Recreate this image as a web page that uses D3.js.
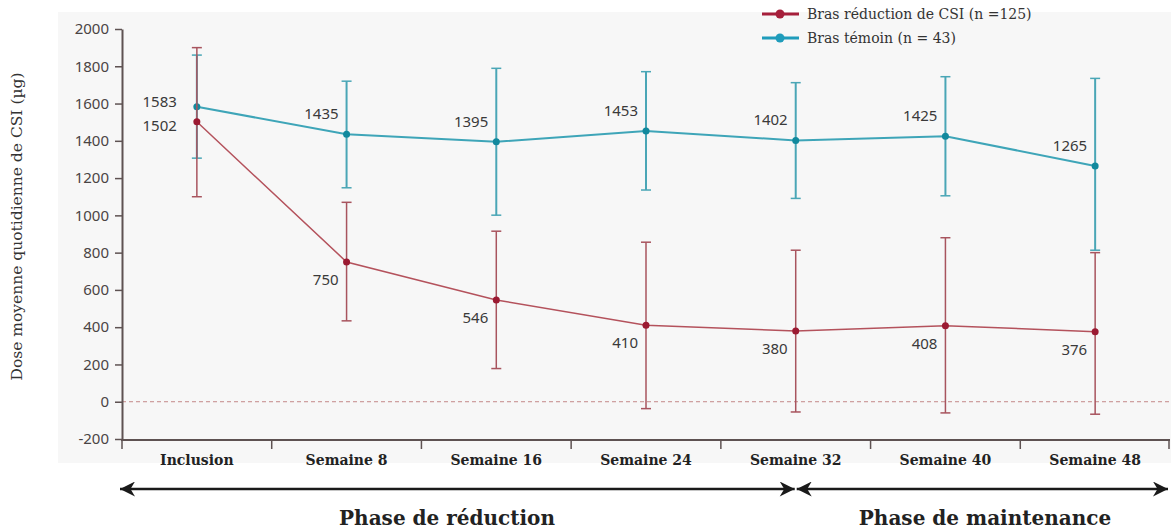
<!DOCTYPE html>
<html><head><meta charset="utf-8">
<script src="https://cdn.jsdelivr.net/npm/d3@7/dist/d3.min.js"></script>
<style>
html,body{margin:0;padding:0;background:#fff;}
svg{display:block;}
</style></head>
<body>
<svg id="chart" width="1171" height="530"></svg>
<script>
const categories = ["Inclusion","Semaine 8","Semaine 16","Semaine 24","Semaine 32","Semaine 40","Semaine 48"];
const reductionMean = [1502, 750, 546, 410, 380, 408, 376];
const reductionHigh = [1900, 1070, 915, 856, 813, 880, 800];
const reductionLow  = [1100, 434, 178, -37, -55, -60, -67];
const temoinMean = [1583, 1435, 1395, 1453, 1402, 1425, 1265];
const temoinHigh = [1860, 1720, 1789, 1771, 1712, 1744, 1735];
const temoinLow  = [1307, 1148, 1001, 1136, 1091, 1105, 813];
const yTicks = [-200, 0, 200, 400, 600, 800, 1000, 1200, 1400, 1600, 1800, 2000];
const seriesNames = ["Bras réduction de CSI (n =125)", "Bras témoin (n = 43)"];
const phaseNames = ["Phase de réduction", "Phase de maintenance"];
const yTitle = "Dose moyenne quotidienne de CSI (µg)";

const svg = d3.select("#chart");
const x = d3.scaleBand().domain(categories).range([122, 1170]).padding(0);
const y = d3.scaleLinear().domain([-200, 2000]).range([439, 29]);
const cx = c => x(c) + x.bandwidth() / 2;

const serif = "'DejaVu Serif', 'Liberation Serif', serif";
const sans = "'Noto Sans', 'Open Sans', sans-serif";
const axisColor = "#5e5252";

// background
svg.append("rect").attr("x", 58).attr("y", 12).attr("width", 1171 - 58).attr("height", 451).attr("fill", "#f7f7f7");

// zero dashed line
svg.append("line").attr("x1", x.range()[0]).attr("x2", 1171).attr("y1", y(0)).attr("y2", y(0))
  .attr("stroke", "#c48a8a").attr("stroke-width", 1).attr("stroke-dasharray", "4,3");

// y axis
const yAxis = svg.append("g").attr("transform", `translate(${x.range()[0]},0)`)
  .call(d3.axisLeft(y).tickValues(yTicks).tickFormat(d => String(d)).tickSize(7).tickSizeOuter(0).tickPadding(6));
yAxis.select(".domain").attr("stroke", axisColor).attr("stroke-width", 2);
yAxis.selectAll(".tick line").attr("stroke", axisColor).attr("stroke-width", 1.5);
yAxis.selectAll(".tick text").attr("font-family", sans).attr("font-size", 15).attr("fill", "#4a4444");

// x axis line
svg.append("line").attr("x1", x.range()[0] - 1).attr("x2", x.range()[1]).attr("y1", y(-200) + 1).attr("y2", y(-200) + 1)
  .attr("stroke", axisColor).attr("stroke-width", 2);
// boundary ticks
const bounds = categories.map(c => x(c)).concat([x.range()[1] - 1]);
svg.selectAll(".btick").data(bounds).enter().append("line")
  .attr("x1", d => d).attr("x2", d => d).attr("y1", y(-200)).attr("y2", y(-200) + 10)
  .attr("stroke", axisColor).attr("stroke-width", 1.5);
// category labels
svg.selectAll(".cat").data(categories).enter().append("text")
  .attr("x", d => cx(d)).attr("y", 465).attr("text-anchor", "middle")
  .attr("font-family", serif).attr("font-weight", "bold").attr("font-size", 14).attr("fill", "#222")
  .text(d => d);

// y title
svg.append("text").attr("transform", `translate(22,${(68 + 385) / 2}) rotate(-90)`)
  .attr("text-anchor", "middle").attr("font-family", serif).attr("font-size", 15.5).attr("fill", "#333")
  .text(yTitle);

function drawSeries(mean, hi, lo, lineColor, barColor, ptColor, lw, above) {
  const g = svg.append("g");
  g.selectAll(".eb").data(categories).enter().append("line")
    .attr("x1", d => cx(d)).attr("x2", d => cx(d))
    .attr("y1", (d, i) => y(hi[i])).attr("y2", (d, i) => y(lo[i]))
    .attr("stroke", barColor).attr("stroke-width", lw);
  [hi, lo].forEach(arr => {
    g.selectAll(null).data(categories).enter().append("line")
      .attr("x1", d => cx(d) - 5).attr("x2", d => cx(d) + 5)
      .attr("y1", (d, i) => y(arr[i])).attr("y2", (d, i) => y(arr[i]))
      .attr("stroke", barColor).attr("stroke-width", 1.5);
  });
  const line = d3.line().x((d, i) => cx(categories[i])).y(d => y(d));
  g.append("path").datum(mean).attr("d", line).attr("fill", "none").attr("stroke", lineColor).attr("stroke-width", lw);
  g.selectAll("circle").data(mean).enter().append("circle")
    .attr("cx", (d, i) => cx(categories[i])).attr("cy", d => y(d)).attr("r", 3.5).attr("fill", ptColor);
  g.selectAll(".lbl").data(mean).enter().append("text")
    .attr("x", (d, i) => cx(categories[i]) - (i === 0 ? 20 : 8))
    .attr("y", (d, i) => y(d) + (i === 0 ? (above ? 0 : 9) : (above ? -15 : 23)))
    .attr("text-anchor", "end").attr("font-family", sans).attr("font-size", 15).attr("fill", "#3a3a3a")
    .text(d => d);
}
drawSeries(temoinMean, temoinHigh, temoinLow, "#3ea5b8", "#4aa6b6", "#12899d", 2, true);
drawSeries(reductionMean, reductionHigh, reductionLow, "#b4525c", "#a8545e", "#9b1a32", 1.5, false);

// legend
const legColors = ["#a61f3b", "#1f9cbb"];
seriesNames.forEach((n, i) => {
  const ly = 14 + i * 24;
  svg.append("line").attr("x1", 762).attr("x2", 799).attr("y1", ly).attr("y2", ly).attr("stroke", legColors[i]).attr("stroke-width", 3);
  svg.append("circle").attr("cx", 780).attr("cy", ly).attr("r", 4.5).attr("fill", legColors[i]);
  svg.append("text").attr("x", 807).attr("y", ly + 5).attr("font-family", serif).attr("font-size", 14).attr("fill", "#333").text(n);
});

// phase arrows
const defs = svg.append("defs");
defs.append("marker").attr("id", "ah").attr("viewBox", "0 0 10 10").attr("refX", 10).attr("refY", 5)
  .attr("markerWidth", 7).attr("markerHeight", 6).attr("markerUnits", "strokeWidth").attr("orient", "auto-start-reverse")
  .append("path").attr("d", "M0,0 L10,5 L0,10 L3,5 Z").attr("fill", "#1a1a1a");
const mid = cx(categories[4]);
const phases = [[x.range()[0] - 2, mid - 1], [mid + 1, x.range()[1] - 2]];
phases.forEach((p, i) => {
  svg.append("line").attr("x1", p[0]).attr("x2", p[1]).attr("y1", 489).attr("y2", 489)
    .attr("stroke", "#1a1a1a").attr("stroke-width", 2.5)
    .attr("marker-start", "url(#ah)").attr("marker-end", "url(#ah)");
});
svg.append("text").attr("x", 447).attr("y", 525).attr("text-anchor", "middle").attr("font-family", serif)
  .attr("font-weight", "bold").attr("font-size", 20).attr("fill", "#222").text(phaseNames[0]);
svg.append("text").attr("x", 985).attr("y", 525).attr("text-anchor", "middle").attr("font-family", serif)
  .attr("font-weight", "bold").attr("font-size", 20).attr("fill", "#222").text(phaseNames[1]);
</script>
</body></html>
